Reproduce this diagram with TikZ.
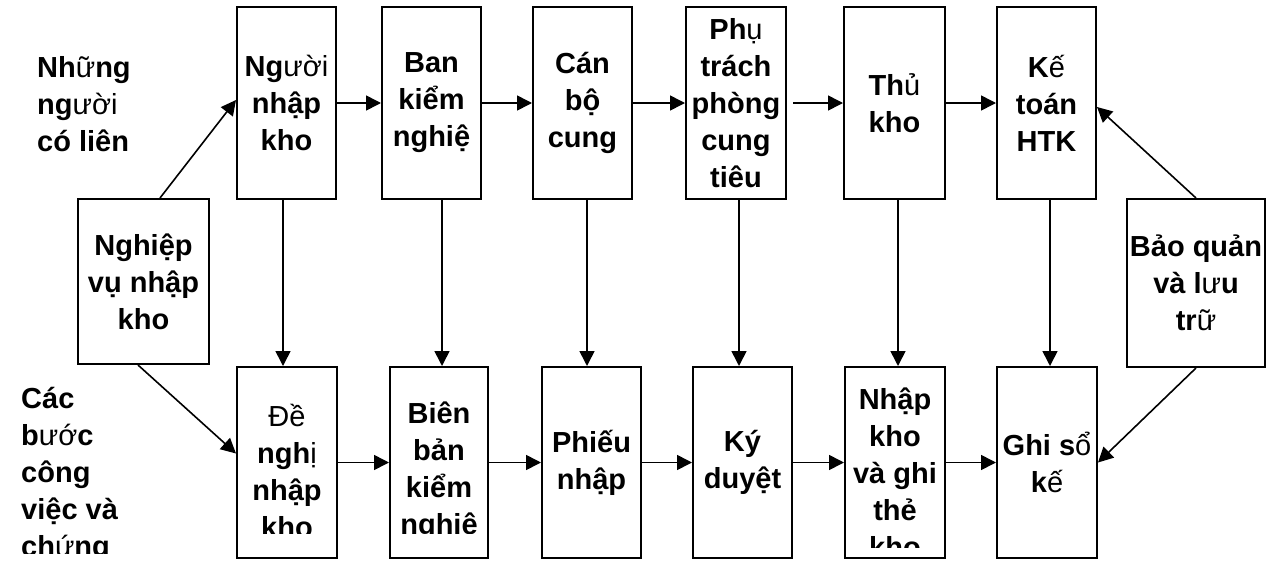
\documentclass[tikz,border=0pt]{standalone}
\usepackage{fontspec}
\setmainfont{Liberation Sans}
\usetikzlibrary{arrows.meta}
\newcommand\lite[1]{{\mdseries #1}}
\newcommand\bxfont{\fontsize{29}{37}\selectfont\bfseries}
\tikzset{
  box/.style={draw, line width=2pt, inner sep=0pt, align=center, font=\bxfont},
  lbl/.style={inner sep=0pt, align=left, font=\bxfont},
  txt/.style={inner sep=0pt, align=center, font=\bxfont},
  arr/.style={line width=1.6pt, -{Triangle[length=15pt,width=15pt]}},
}
\begin{document}
\begin{tikzpicture}[x=1pt,y=-1pt]
\useasboundingbox (0,0) rectangle (1277,560);
% top row
\node[box, minimum width=99pt, minimum height=192pt] (n1) at (286.5,103) {Ng\lite{ười}\\nhập\\kho};
\node[box, minimum width=99pt, minimum height=192pt] (n2) at (431.5,103) {Ban\\kiểm\\nghiệ};
\node[box, minimum width=99pt, minimum height=192pt] (n3) at (582.5,103) {Cán\\bộ\\cung};
\node[box, minimum width=100pt, minimum height=192pt] (n4) at (736,103) {Ph\lite{ụ}\\trách\\phòng\\cung\\tiêu};
\node[box, minimum width=101pt, minimum height=192pt] (n5) at (894.5,103) {Th\lite{ủ}\\kho};
\node[box, minimum width=99pt, minimum height=192pt] (n6) at (1046.5,103) {K\lite{ế}\\toán\\HTK};
% side boxes
\node[box, minimum width=131pt, minimum height=165pt] (lb) at (143.5,281.5) {Nghiệp\\vụ nhập\\kho};
\node[box, minimum width=138pt, minimum height=168pt] (rb) at (1196,283) {Bảo quản\\và l\lite{ư}u\\tr\lite{ữ}};
% bottom row
\node[box, minimum width=100pt, minimum height=191pt] (d1) at (287,462.5) {};
\node[box, minimum width=98pt, minimum height=191pt] (d2) at (439,462.5) {};
\node[box, minimum width=99pt, minimum height=191pt] (d3) at (591.5,462.5) {Phiếu\\nhập};
\node[box, minimum width=99pt, minimum height=191pt] (d4) at (742.5,462.5) {Ký\\duyệt};
\node[box, minimum width=100pt, minimum height=191pt] (d5) at (895,462.5) {};
\node[box, minimum width=100pt, minimum height=191pt] (d6) at (1047,462.5) {Ghi s\lite{ổ}\\k\lite{ế}};
% clipped texts
\begin{scope}
\clip (d1.north west) rectangle (337,533);
\node[txt] (t1) at (287,471) {\lite{Đề}\\ngh\lite{ị}\\nhập\\kho};
\end{scope}
\begin{scope}
\clip (d2.north west) rectangle (488,533);
\node[txt] (t2) at (439,471) {Biên\\bản\\kiểm\\nghiệ};
\end{scope}
\begin{scope}
\clip (d5.north west) rectangle (945,547);
\node[txt] (t5) at (895,473) {Nhập\\kho\\và ghi\\thẻ\\kho};
\end{scope}
% side labels
\node[lbl, anchor=west] (la) at (37,104) {Nh\lite{ữ}ng\\ng\lite{ười}\\có liên};
\begin{scope}
\clip (0,370) rectangle (230,553);
\node[lbl, anchor=west] (lc) at (21,475) {Các\\b\lite{ướ}c\\công\\việc và\\ch\lite{ứ}ng};
\end{scope}
% horizontal arrows
\draw[arr] (n1) -- (n2);
\draw[arr] (n2) -- (n3);
\draw[arr] (n3) -- (n4);
\draw[arr, shorten <=6pt] (n4) -- (n5);
\draw[arr] (n5) -- (n6);
\draw[arr] (d1) -- (d2);
\draw[arr] (d2) -- (d3);
\draw[arr] (d3) -- (d4);
\draw[arr] (d4) -- (d5);
\draw[arr] (d5) -- (d6);
% vertical arrows
\coordinate (v1) at (283,0);
\coordinate (v2) at (442,0);
\coordinate (v3) at (587,0);
\coordinate (v4) at (739,0);
\coordinate (v5) at (898,0);
\coordinate (v6) at (1050,0);
\draw[arr] (n1.south -| v1) -- (d1.north -| v1);
\draw[arr] (n2.south -| v2) -- (d2.north -| v2);
\draw[arr] (n3.south -| v3) -- (d3.north -| v3);
\draw[arr] (n4.south -| v4) -- (d4.north -| v4);
\draw[arr] (n5.south -| v5) -- (d5.north -| v5);
\draw[arr] (n6.south -| v6) -- (d6.north -| v6);
% diagonal arrows
\draw[arr] ([xshift=16.5pt]lb.north) -- ([yshift=3pt]n1.west);
\draw[arr] ([xshift=-5.5pt]lb.south) -- ([yshift=9pt]d1.west);
\draw[arr] (rb.north) -- ([yshift=-4pt]n6.east);
\draw[arr] (rb.south) -- (d6.east);
\end{tikzpicture}
\end{document}
